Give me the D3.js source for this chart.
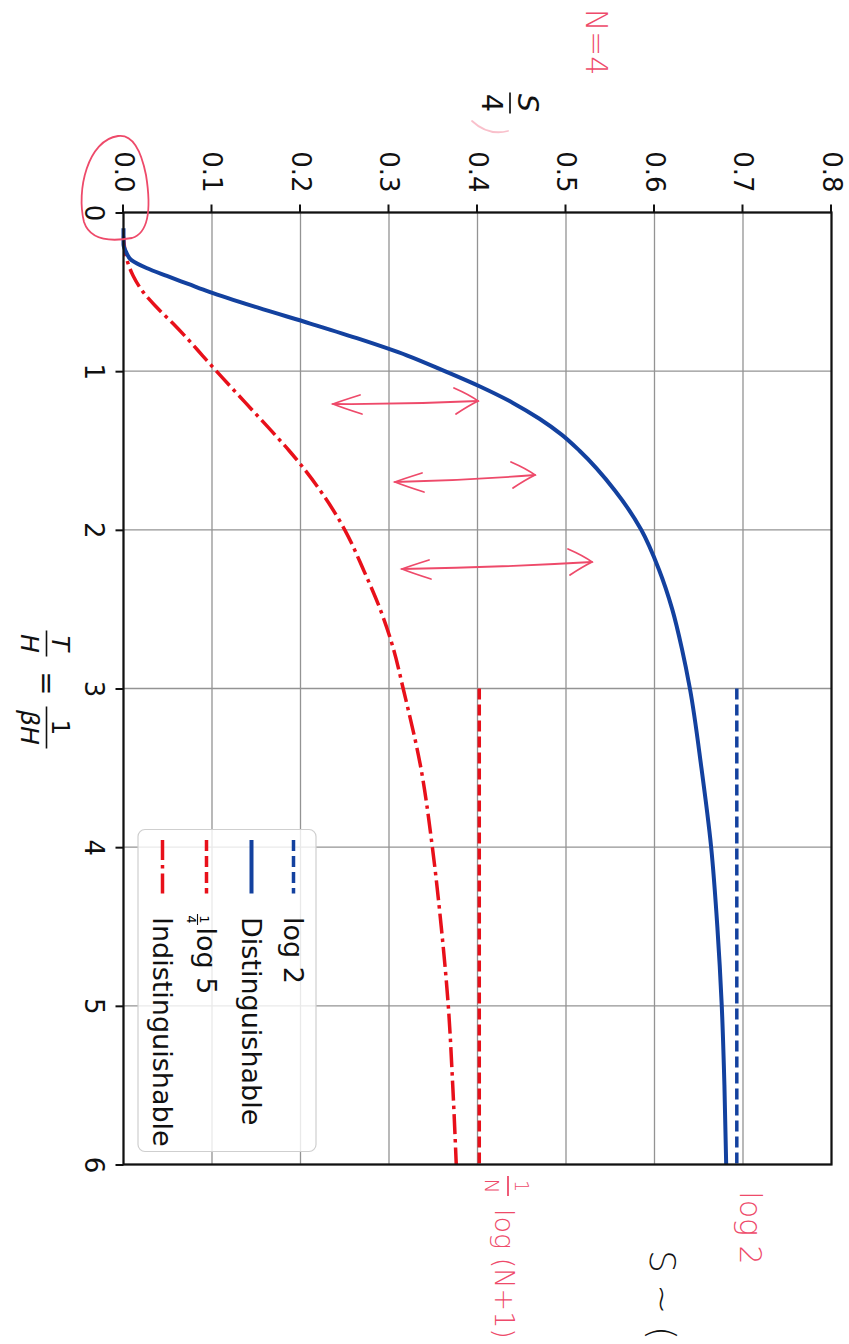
<!DOCTYPE html>
<html><head><meta charset="utf-8">
<script src="https://cdn.jsdelivr.net/npm/d3@7/dist/d3.min.js"></script>
<style>
body{margin:0;background:#fff;}
svg{display:block;}
text{font-family:"DejaVu Sans",sans-serif;}
</style>
</head><body>
<svg id="chart" width="849" height="1344"></svg>
<script>
// ---- data ----
const tTicks = [0, 1, 2, 3, 4, 5, 6];
const sTicks = [0.0, 0.1, 0.2, 0.3, 0.4, 0.5, 0.6, 0.7, 0.8];
const distT = [0.1, 0.2, 0.25, 0.3, 0.35, 0.4, 0.45, 0.5, 0.6, 0.7, 0.8, 0.9, 1.0, 1.1, 1.2, 1.3, 1.4, 1.5, 1.75, 2.0, 2.25, 2.5, 2.75, 3.0, 3.5, 4.0, 4.5, 5.0, 5.5, 6.0];
const distS = [0.0, 0.0, 0.003, 0.009, 0.026, 0.049, 0.073, 0.097, 0.152, 0.211, 0.268, 0.320, 0.363, 0.404, 0.440, 0.470, 0.495, 0.515, 0.555, 0.585, 0.605, 0.620, 0.631, 0.640, 0.653, 0.664, 0.671, 0.676, 0.679, 0.681];
const indT = [0.15, 0.25, 0.3, 0.4, 0.5, 0.6, 0.7, 0.8, 0.9, 1.0, 1.2, 1.4, 1.5, 1.75, 2.0, 2.25, 2.5, 2.75, 3.0, 3.5, 4.0, 4.5, 5.0, 5.5, 6.0];
const indS = [0.0, 0.002, 0.004, 0.011, 0.022, 0.038, 0.056, 0.073, 0.089, 0.105, 0.138, 0.171, 0.187, 0.222, 0.250, 0.271, 0.290, 0.305, 0.316, 0.336, 0.349, 0.359, 0.367, 0.372, 0.376];
const limitT = [3, 6];
const log2S = [0.693, 0.693];
const log5S = [0.402, 0.402];
const legendLabels = ["log 2", "Distinguishable", "log 5", "Indistinguishable"];

// ---- layout ----
const W = 952, H = 708;
const BLUE = "#13419f", RED = "#e8101a", PINK = "#ee4a6a";
const svg = d3.select("#chart");
svg.append("rect").attr("width", 849).attr("height", 1344).attr("fill", "#fff");

// whole chart is rotated 90° clockwise on the page
const g = svg.append("g").attr("transform", "translate(831.5,212.5) rotate(90)");
const x = d3.scaleLinear().domain([0, 6]).range([0, W]);
const y = d3.scaleLinear().domain([0, 0.8]).range([H, 0]);

// grid
g.append("g").selectAll("line").data(tTicks).join("line")
  .attr("x1", d => x(d)).attr("x2", d => x(d)).attr("y1", 0).attr("y2", H)
  .attr("stroke", "#939393").attr("stroke-width", 1.3);
g.append("g").selectAll("line").data(sTicks).join("line")
  .attr("y1", d => y(d)).attr("y2", d => y(d)).attr("x1", 0).attr("x2", W)
  .attr("stroke", "#939393").attr("stroke-width", 1.3);

// axes
const xAxis = g.append("g").attr("transform", `translate(0,${H})`)
  .call(d3.axisBottom(x).tickValues(tTicks).tickFormat(d3.format("d")).tickSize(8).tickPadding(12));
const yAxis = g.append("g")
  .call(d3.axisLeft(y).tickValues(sTicks).tickFormat(d3.format(".1f")).tickSize(8).tickPadding(12));
[xAxis, yAxis].forEach(a => {
  a.select(".domain").remove();
  a.selectAll(".tick line").attr("stroke", "#111").attr("stroke-width", 2);
  a.selectAll("text").attr("font-size", 26).attr("fill", "#111").attr("font-family", "DejaVu Sans");
});

// curves
const line = d3.line().x(d => x(d[0])).y(d => y(d[1])).curve(d3.curveMonotoneX);
const curves = g.append("g");
curves.append("path").datum(indT.map((t, i) => [t, indS[i]])).attr("d", line)
  .attr("fill", "none").attr("stroke", RED).attr("stroke-width", 3.5).attr("stroke-dasharray", "20,5,3.5,5");
curves.append("path").datum(limitT.map((t, i) => [t, log5S[i]])).attr("d", line)
  .attr("fill", "none").attr("stroke", RED).attr("stroke-width", 3.5).attr("stroke-dasharray", "11,5");
curves.append("path").datum(distT.map((t, i) => [t, distS[i]])).attr("d", line)
  .attr("fill", "none").attr("stroke", BLUE).attr("stroke-width", 4).attr("stroke-linejoin", "round");
curves.append("path").datum(limitT.map((t, i) => [t, log2S[i]])).attr("d", line)
  .attr("fill", "none").attr("stroke", BLUE).attr("stroke-width", 3.5).attr("stroke-dasharray", "11,5");

// frame
g.append("rect").attr("width", W).attr("height", H).attr("fill", "none")
  .attr("stroke", "#111").attr("stroke-width", 2.2);

// legend
const leg = g.append("g").attr("transform", "translate(617,515.5)");
leg.append("rect").attr("width", 322).attr("height", 178).attr("rx", 7)
  .attr("fill", "#fff").attr("fill-opacity", 0.8).attr("stroke", "#cfcfcf").attr("stroke-width", 1.2);
const legStyles = [
  {c: BLUE, dash: "11,5", w: 3.5},
  {c: BLUE, dash: null, w: 4},
  {c: RED, dash: "11,5", w: 3.5},
  {c: RED, dash: "20,5,3.5,5", w: 3.5}
];
const rowY = [22.5, 64.5, 109.5, 153.5];
legendLabels.forEach((lab, i) => {
  const r = leg.append("g").attr("transform", `translate(0,${rowY[i]})`);
  r.append("line").attr("x1", 10.5).attr("x2", 64).attr("y1", 0).attr("y2", 0)
    .attr("stroke", legStyles[i].c).attr("stroke-width", legStyles[i].w)
    .attr("stroke-dasharray", legStyles[i].dash);
  if (i === 2) {
    r.append("text").attr("x", 90).attr("y", 6.5).attr("text-anchor", "middle").attr("font-size", 13).text("1");
    r.append("line").attr("x1", 84.5).attr("x2", 95.5).attr("y1", 9).attr("y2", 9).attr("stroke", "#111").attr("stroke-width", 1.1);
    r.append("text").attr("x", 90).attr("y", 20).attr("text-anchor", "middle").attr("font-size", 13).text("4");
    r.append("text").attr("x", 98).attr("y", 9.5).attr("font-size", 27).attr("fill", "#111").text(lab);
  } else {
    r.append("text").attr("x", 87.5).attr("y", 9.5).attr("font-size", 27).attr("fill", "#111").text(lab);
  }
});

// axis labels (math-like)
const lab = g.append("g").attr("fill", "#111");
// S / 4
lab.append("text").attr("x", -109.5).attr("y", 314).attr("text-anchor", "middle")
  .attr("font-size", 29).attr("font-style", "italic").text("S");
lab.append("line").attr("x1", -120).attr("x2", -99).attr("y1", 321.5).attr("y2", 321.5)
  .attr("stroke", "#111").attr("stroke-width", 1.7);
lab.append("text").attr("x", -109.5).attr("y", 349.5).attr("text-anchor", "middle")
  .attr("font-size", 29).text("4");
// T/H = 1/(βH)
const cx = x(3);
lab.append("text").attr("x", cx - 45).attr("y", 780).attr("text-anchor", "middle")
  .attr("font-size", 25).attr("font-style", "italic").text("T");
lab.append("line").attr("x1", cx - 58).attr("x2", cx - 32).attr("y1", 785).attr("y2", 785)
  .attr("stroke", "#111").attr("stroke-width", 1.6);
lab.append("text").attr("x", cx - 45).attr("y", 811).attr("text-anchor", "middle")
  .attr("font-size", 25).attr("font-style", "italic").text("H");
lab.append("text").attr("x", cx - 5).attr("y", 795).attr("text-anchor", "middle")
  .attr("font-size", 29).text("=");
lab.append("text").attr("x", cx + 39).attr("y", 780).attr("text-anchor", "middle")
  .attr("font-size", 25).text("1");
lab.append("line").attr("x1", cx + 18).attr("x2", cx + 60).attr("y1", 785).attr("y2", 785)
  .attr("stroke", "#111").attr("stroke-width", 1.6);
lab.append("text").attr("x", cx + 39).attr("y", 811).attr("text-anchor", "middle")
  .attr("font-size", 25).attr("font-style", "italic").text("βH");

// ---- handwritten annotations (page coordinates) ----
const ann = svg.append("g").attr("fill", "none").attr("stroke", PINK).attr("stroke-width", 1.8)
  .attr("stroke-linecap", "round");
// loop around origin label
ann.append("path").attr("d", "M118,136 C88,140 76,190 84,222 C90,240 110,242 132,238 C152,232 150,200 146,175 C141,150 132,134 118,136 Z");
// double arrows
const arrows = [[333, 404, 478, 401], [395, 482, 535, 475], [402, 569, 592, 562]];
arrows.forEach(([x1, y1, x2, y2]) => {
  const my = (y1 + y2) / 2 + 2;
  ann.append("path").attr("d", `M${x1},${y1} Q${(x1 + x2) / 2},${my} ${x2},${y2}`);
  ann.append("path").attr("d", `M${x1 + 27},${y1 - 9} Q${x1 + 8},${y1 - 3} ${x1},${y1} Q${x1 + 10},${y1 + 4} ${x1 + 29},${y1 + 10}`);
  ann.append("path").attr("d", `M${x2 - 24},${y2 - 13} Q${x2 - 8},${y2 - 6} ${x2},${y2} Q${x2 - 10},${y2 + 5} ${x2 - 22},${y2 + 13}`);
});
ann.append("path").attr("d", "M472,121 Q488,136 508,131").attr("stroke-opacity", 0.35);

const hw = svg.append("g").attr("fill", PINK).attr("font-family", "DejaVu Sans").attr("font-weight", 300);
hw.append("text").attr("transform", "translate(596,42) rotate(90)").attr("text-anchor", "middle")
  .attr("dominant-baseline", "central").attr("font-size", 30).text("N=4");
hw.append("text").attr("transform", "translate(750,1228) rotate(90)").attr("text-anchor", "middle")
  .attr("dominant-baseline", "central").attr("font-size", 30).text("log 2");
// 1/N log (N+1)
const nl = hw.append("g").attr("transform", "translate(505,1176) rotate(90)");
nl.append("text").attr("x", 10).attr("y", -10).attr("text-anchor", "middle").attr("font-size", 19).text("1");
nl.append("line").attr("x1", 0).attr("x2", 20).attr("y1", -3).attr("y2", -3).attr("stroke", PINK).attr("stroke-width", 1.8);
nl.append("text").attr("x", 10).attr("y", 20).attr("text-anchor", "middle").attr("font-size", 20).text("N");
nl.append("text").attr("x", 33).attr("y", 10).attr("font-size", 27).text("log (N+1)");
svg.append("text").attr("transform", "translate(662,1250) rotate(90)")
  .attr("dominant-baseline", "central").attr("font-size", 36).attr("fill", "#111")
  .attr("font-weight", 300).text("S ~ (");
</script>
</body></html>
